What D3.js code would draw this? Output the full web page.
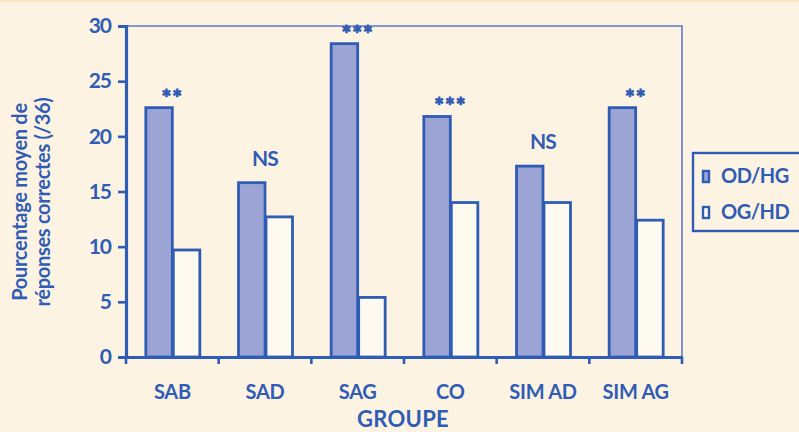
<!DOCTYPE html>
<html>
<head>
<meta charset="utf-8">
<script src="https://cdn.jsdelivr.net/npm/d3@7"></script>
<style>
  html, body { margin: 0; padding: 0; background: #fdf3e2; }
  svg { display: block; }
  text { font-family: Lato, "Open Sans", sans-serif; font-weight: 700; fill: #2f5cb4; }
</style>
</head>
<body>
<svg id="chart" width="799" height="432"></svg>
<script>
// Groupes et scores moyens (/36)
const categories = ["SAB", "SAD", "SAG", "CO", "SIM AD", "SIM AG"];
const seriesNames = ["OD/HG", "OG/HD"];
const odhg = [22.6, 15.8, 28.4, 21.8, 17.3, 22.6];
const oghd = [9.7, 12.7, 5.4, 14.0, 14.0, 12.4];
const significance = ["**", "NS", "***", "***", "NS", "**"];
const yTicks = [0, 5, 10, 15, 20, 25, 30];

const blue = "#2f5cb4";
const fillA = "#9ba4d4";
const fillB = "#fffaf0";

const svg = d3.select("#chart");
svg.append("rect").attr("x", 0).attr("y", 0).attr("width", 799).attr("height", 432).attr("fill", "#fdf3e2");
svg.append("rect").attr("x", 0).attr("y", 0).attr("width", 799).attr("height", 2).attr("fill", "#fbe6c8");

const plotLeft = 126, plotRight = 682, plotTop = 26, plotBottom = 357;

const x = d3.scaleBand().domain(categories).range([plotLeft, plotRight]).paddingInner(0).paddingOuter(0);
const y = d3.scaleLinear().domain([0, 30]).range([plotBottom, plotTop]);
const inner = d3.scaleBand().domain(seriesNames).range([0, 55]);
const groupOffset = (x.bandwidth() - 55) / 2;

// cadre du graphique (haut et droite)
svg.append("path")
  .attr("d", `M${plotLeft},${plotTop}H${plotRight}V${plotBottom}`)
  .attr("fill", "none").attr("stroke", "#5a7cc6").attr("stroke-width", 1.6);

// barres
const rows = categories.map((c, i) => ({ c, vals: [odhg[i], oghd[i]] }));
const g = svg.append("g").selectAll("g").data(rows).join("g")
  .attr("transform", d => `translate(${x(d.c) + groupOffset},0)`);
g.selectAll("rect").data(d => d.vals.map((v, k) => ({ k, v }))).join("rect")
  .attr("x", d => inner(seriesNames[d.k]) + 1)
  .attr("width", inner.bandwidth() - 1)
  .attr("y", d => y(d.v))
  .attr("height", d => y(0) - y(d.v))
  .attr("fill", d => d.k === 0 ? fillA : fillB)
  .attr("stroke", blue).attr("stroke-width", 2.8);

// mentions de significativité
svg.append("g").selectAll("text").data(rows).join("text")
  .attr("x", d => x(d.c) + x.bandwidth() / 2)
  .attr("y", (d, i) => y(Math.max(...d.vals)) - (significance[i] === "NS" ? 17 : 2))
  .attr("text-anchor", "middle")
  .attr("font-size", (d, i) => significance[i] === "NS" ? 21 : 23)
  .attr("stroke", (d, i) => significance[i] === "NS" ? "none" : blue)
  .attr("stroke-width", 1)
  .style("letter-spacing", (d, i) => significance[i] === "NS" ? "-0.8px" : "1px")
  .text((d, i) => significance[i]);

// axe des ordonnées
const yAxis = svg.append("g").attr("transform", `translate(${plotLeft},0)`)
  .call(d3.axisLeft(y).tickValues(yTicks).tickSize(8).tickPadding(7));
yAxis.select(".domain").attr("stroke", blue).attr("stroke-width", 3.2);
yAxis.selectAll(".tick line").attr("stroke", blue).attr("stroke-width", 2.6);
yAxis.selectAll(".tick text").attr("font-size", 21).style("letter-spacing", "-1px").attr("fill", blue);

// axe des abscisses
const xAxis = svg.append("g").attr("transform", `translate(0,${plotBottom})`)
  .call(d3.axisBottom(x).tickSize(0).tickPadding(28));
xAxis.select(".domain").attr("stroke", blue).attr("stroke-width", 3.2);
xAxis.selectAll(".tick text").attr("font-size", 20).style("letter-spacing", "-0.3px").attr("fill", blue);
const bounds = categories.map(c => x(c)).concat([plotRight]);
svg.append("g").selectAll("line").data(bounds).join("line")
  .attr("x1", d => d).attr("x2", d => d)
  .attr("y1", plotBottom).attr("y2", plotBottom + 7)
  .attr("stroke", blue).attr("stroke-width", 2.6);

// titres des axes
svg.append("text").attr("x", 403).attr("y", 427)
  .attr("text-anchor", "middle").attr("font-size", 22).style("letter-spacing", "0.3px")
  .text("GROUPE");
const yt = svg.append("text").attr("transform", "translate(0,202) rotate(-90)")
  .attr("text-anchor", "middle").attr("font-size", 20).style("letter-spacing", "-0.3px");
yt.append("tspan").attr("x", 0).attr("y", 27).text("Pourcentage moyen de");
yt.append("tspan").attr("x", 0).attr("y", 50).text("réponses correctes (/36)");

// légende
const lg = svg.append("g").attr("transform", "translate(693,153)");
lg.append("rect").attr("x", 0).attr("y", 0).attr("width", 130).attr("height", 78)
  .attr("fill", "none").attr("stroke", blue).attr("stroke-width", 2.4);
const items = lg.selectAll("g").data(seriesNames).join("g")
  .attr("transform", (d, i) => `translate(0,${30 + i * 36})`);
items.append("rect").attr("x", 10).attr("y", -12).attr("width", 6).attr("height", 11)
  .attr("fill", (d, i) => i === 0 ? fillA : fillB)
  .attr("stroke", blue).attr("stroke-width", 2.4);
items.append("text").attr("x", 28).attr("y", 0).attr("font-size", 20)
  .style("letter-spacing", "-0.5px").text(d => d);
</script>
</body>
</html>
